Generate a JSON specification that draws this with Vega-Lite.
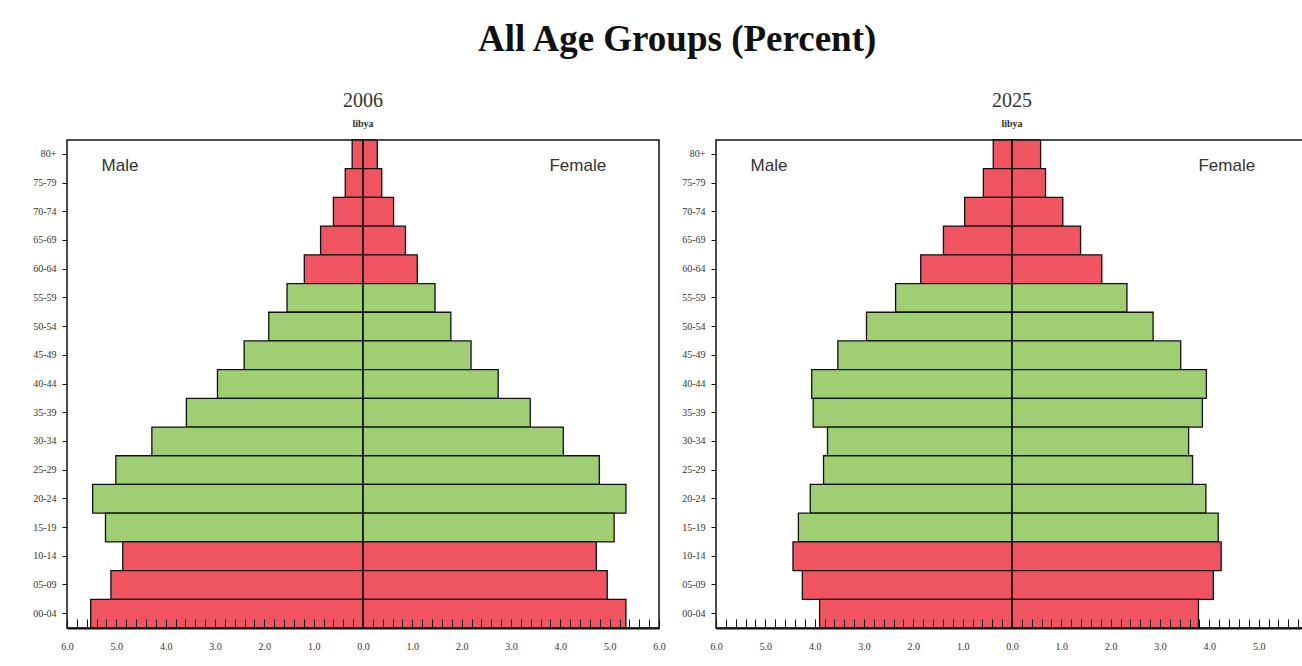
{
  "$schema": "https://vega.github.io/schema/vega-lite/v6.json",
  "background": "white",
  "padding": {"left": 5, "top": 20, "right": 5, "bottom": 5},
  "title": {"text": "All Age Groups (Percent)", "font": "Liberation Serif", "fontSize": 37, "fontWeight": "bold", "color": "#111", "anchor": "middle", "dx": 17, "offset": 32},
  "datasets": {
    "d2006": [
      {"age": "80+", "sex": "Male", "pct": -0.22, "grp": "dep"}, {"age": "80+", "sex": "Female", "pct": 0.29, "grp": "dep"},
      {"age": "75-79", "sex": "Male", "pct": -0.36, "grp": "dep"}, {"age": "75-79", "sex": "Female", "pct": 0.38, "grp": "dep"},
      {"age": "70-74", "sex": "Male", "pct": -0.60, "grp": "dep"}, {"age": "70-74", "sex": "Female", "pct": 0.62, "grp": "dep"},
      {"age": "65-69", "sex": "Male", "pct": -0.86, "grp": "dep"}, {"age": "65-69", "sex": "Female", "pct": 0.86, "grp": "dep"},
      {"age": "60-64", "sex": "Male", "pct": -1.19, "grp": "dep"}, {"age": "60-64", "sex": "Female", "pct": 1.10, "grp": "dep"},
      {"age": "55-59", "sex": "Male", "pct": -1.54, "grp": "work"}, {"age": "55-59", "sex": "Female", "pct": 1.46, "grp": "work"},
      {"age": "50-54", "sex": "Male", "pct": -1.91, "grp": "work"}, {"age": "50-54", "sex": "Female", "pct": 1.78, "grp": "work"},
      {"age": "45-49", "sex": "Male", "pct": -2.41, "grp": "work"}, {"age": "45-49", "sex": "Female", "pct": 2.19, "grp": "work"},
      {"age": "40-44", "sex": "Male", "pct": -2.95, "grp": "work"}, {"age": "40-44", "sex": "Female", "pct": 2.74, "grp": "work"},
      {"age": "35-39", "sex": "Male", "pct": -3.58, "grp": "work"}, {"age": "35-39", "sex": "Female", "pct": 3.39, "grp": "work"},
      {"age": "30-34", "sex": "Male", "pct": -4.28, "grp": "work"}, {"age": "30-34", "sex": "Female", "pct": 4.06, "grp": "work"},
      {"age": "25-29", "sex": "Male", "pct": -5.01, "grp": "work"}, {"age": "25-29", "sex": "Female", "pct": 4.79, "grp": "work"},
      {"age": "20-24", "sex": "Male", "pct": -5.48, "grp": "work"}, {"age": "20-24", "sex": "Female", "pct": 5.33, "grp": "work"},
      {"age": "15-19", "sex": "Male", "pct": -5.22, "grp": "work"}, {"age": "15-19", "sex": "Female", "pct": 5.09, "grp": "work"},
      {"age": "10-14", "sex": "Male", "pct": -4.87, "grp": "dep"}, {"age": "10-14", "sex": "Female", "pct": 4.73, "grp": "dep"},
      {"age": "05-09", "sex": "Male", "pct": -5.11, "grp": "dep"}, {"age": "05-09", "sex": "Female", "pct": 4.95, "grp": "dep"},
      {"age": "00-04", "sex": "Male", "pct": -5.52, "grp": "dep"}, {"age": "00-04", "sex": "Female", "pct": 5.33, "grp": "dep"}
    ],
    "d2025": [
      {"age": "80+", "sex": "Male", "pct": -0.38, "grp": "dep"}, {"age": "80+", "sex": "Female", "pct": 0.58, "grp": "dep"},
      {"age": "75-79", "sex": "Male", "pct": -0.58, "grp": "dep"}, {"age": "75-79", "sex": "Female", "pct": 0.68, "grp": "dep"},
      {"age": "70-74", "sex": "Male", "pct": -0.96, "grp": "dep"}, {"age": "70-74", "sex": "Female", "pct": 1.03, "grp": "dep"},
      {"age": "65-69", "sex": "Male", "pct": -1.39, "grp": "dep"}, {"age": "65-69", "sex": "Female", "pct": 1.39, "grp": "dep"},
      {"age": "60-64", "sex": "Male", "pct": -1.85, "grp": "dep"}, {"age": "60-64", "sex": "Female", "pct": 1.82, "grp": "dep"},
      {"age": "55-59", "sex": "Male", "pct": -2.36, "grp": "work"}, {"age": "55-59", "sex": "Female", "pct": 2.33, "grp": "work"},
      {"age": "50-54", "sex": "Male", "pct": -2.95, "grp": "work"}, {"age": "50-54", "sex": "Female", "pct": 2.86, "grp": "work"},
      {"age": "45-49", "sex": "Male", "pct": -3.53, "grp": "work"}, {"age": "45-49", "sex": "Female", "pct": 3.42, "grp": "work"},
      {"age": "40-44", "sex": "Male", "pct": -4.06, "grp": "work"}, {"age": "40-44", "sex": "Female", "pct": 3.94, "grp": "work"},
      {"age": "35-39", "sex": "Male", "pct": -4.03, "grp": "work"}, {"age": "35-39", "sex": "Female", "pct": 3.86, "grp": "work"},
      {"age": "30-34", "sex": "Male", "pct": -3.74, "grp": "work"}, {"age": "30-34", "sex": "Female", "pct": 3.58, "grp": "work"},
      {"age": "25-29", "sex": "Male", "pct": -3.82, "grp": "work"}, {"age": "25-29", "sex": "Female", "pct": 3.66, "grp": "work"},
      {"age": "20-24", "sex": "Male", "pct": -4.09, "grp": "work"}, {"age": "20-24", "sex": "Female", "pct": 3.93, "grp": "work"},
      {"age": "15-19", "sex": "Male", "pct": -4.33, "grp": "work"}, {"age": "15-19", "sex": "Female", "pct": 4.18, "grp": "work"},
      {"age": "10-14", "sex": "Male", "pct": -4.44, "grp": "dep"}, {"age": "10-14", "sex": "Female", "pct": 4.24, "grp": "dep"},
      {"age": "05-09", "sex": "Male", "pct": -4.25, "grp": "dep"}, {"age": "05-09", "sex": "Female", "pct": 4.08, "grp": "dep"},
      {"age": "00-04", "sex": "Male", "pct": -3.90, "grp": "dep"}, {"age": "00-04", "sex": "Female", "pct": 3.78, "grp": "dep"}
    ]
  },
  "spacing": 9,
  "hconcat": [
    {
      "width": 592, "height": 488,
      "title": {"text": "2006", "subtitle": "libya"},
      "data": {"name": "d2006"},
      "layer": [
        {"mark": {"type": "bar", "stroke": "#111", "strokeWidth": 1.3}, "encoding": {
          "y": {"field": "age", "type": "ordinal", "sort": ["80+","75-79","70-74","65-69","60-64","55-59","50-54","45-49","40-44","35-39","30-34","25-29","20-24","15-19","10-14","05-09","00-04"], "scale": {"paddingInner": 0, "paddingOuter": 0}, "axis": {"title": null, "minExtent": 61, "maxExtent": 61}},
          "x": {"field": "pct", "type": "quantitative", "scale": {"domain": [-6, 6], "nice": false}, "axis": {"title": null, "zindex": 1, "tickCount": 100, "labelOverlap": false, "values": [-6,-5.8,-5.6,-5.4,-5.2,-5,-4.8,-4.6,-4.4,-4.2,-4,-3.8,-3.6,-3.4,-3.2,-3,-2.8,-2.6,-2.4,-2.2,-2,-1.8,-1.6,-1.4,-1.2,-1,-0.8,-0.6,-0.4,-0.2,0,0.2,0.4,0.6,0.8,1,1.2,1.4,1.6,1.8,2,2.2,2.4,2.6,2.8,3,3.2,3.4,3.6,3.8,4,4.2,4.4,4.6,4.8,5,5.2,5.4,5.6,5.8,6], "labelExpr": "datum.value == round(datum.value) ? format(abs(datum.value), '.1f') : ''"}},
          "color": {"field": "grp", "type": "nominal", "scale": {"domain": ["dep", "work"], "range": ["#f05460", "#a0cf73"]}, "legend": null}}},
        {"mark": {"type": "rule", "color": "#111", "strokeWidth": 1}, "data": {"values": [{}]}, "encoding": {"x": {"datum": 0}}},
        {"mark": {"type": "text", "align": "left", "baseline": "middle", "dy": -3, "font": "Liberation Sans", "fontSize": 17, "color": "#333"}, "data": {"values": [{}]}, "encoding": {"x": {"datum": -5.3}, "y": {"datum": "80+", "bandPosition": 1}, "text": {"value": "Male"}}},
        {"mark": {"type": "text", "align": "left", "baseline": "middle", "dy": -3, "font": "Liberation Sans", "fontSize": 17, "color": "#333"}, "data": {"values": [{}]}, "encoding": {"x": {"datum": 3.78}, "y": {"datum": "80+", "bandPosition": 1}, "text": {"value": "Female"}}}
      ]
    },
    {
      "width": 592, "height": 488,
      "title": {"text": "2025", "subtitle": "libya"},
      "data": {"name": "d2025"},
      "layer": [
        {"mark": {"type": "bar", "stroke": "#111", "strokeWidth": 1.3}, "encoding": {
          "y": {"field": "age", "type": "ordinal", "sort": ["80+","75-79","70-74","65-69","60-64","55-59","50-54","45-49","40-44","35-39","30-34","25-29","20-24","15-19","10-14","05-09","00-04"], "scale": {"paddingInner": 0, "paddingOuter": 0}, "axis": {"title": null, "minExtent": 40, "maxExtent": 40}},
          "x": {"field": "pct", "type": "quantitative", "scale": {"domain": [-6, 6], "nice": false}, "axis": {"title": null, "zindex": 1, "tickCount": 100, "labelOverlap": false, "values": [-6,-5.8,-5.6,-5.4,-5.2,-5,-4.8,-4.6,-4.4,-4.2,-4,-3.8,-3.6,-3.4,-3.2,-3,-2.8,-2.6,-2.4,-2.2,-2,-1.8,-1.6,-1.4,-1.2,-1,-0.8,-0.6,-0.4,-0.2,0,0.2,0.4,0.6,0.8,1,1.2,1.4,1.6,1.8,2,2.2,2.4,2.6,2.8,3,3.2,3.4,3.6,3.8,4,4.2,4.4,4.6,4.8,5,5.2,5.4,5.6,5.8,6], "labelExpr": "datum.value == round(datum.value) ? format(abs(datum.value), '.1f') : ''"}},
          "color": {"field": "grp", "type": "nominal", "scale": {"domain": ["dep", "work"], "range": ["#f05460", "#a0cf73"]}, "legend": null}}},
        {"mark": {"type": "rule", "color": "#111", "strokeWidth": 1}, "data": {"values": [{}]}, "encoding": {"x": {"datum": 0}}},
        {"mark": {"type": "text", "align": "left", "baseline": "middle", "dy": -3, "font": "Liberation Sans", "fontSize": 17, "color": "#333"}, "data": {"values": [{}]}, "encoding": {"x": {"datum": -5.3}, "y": {"datum": "80+", "bandPosition": 1}, "text": {"value": "Male"}}},
        {"mark": {"type": "text", "align": "left", "baseline": "middle", "dy": -3, "font": "Liberation Sans", "fontSize": 17, "color": "#333"}, "data": {"values": [{}]}, "encoding": {"x": {"datum": 3.78}, "y": {"datum": "80+", "bandPosition": 1}, "text": {"value": "Female"}}}
      ]
    }
  ],
  "config": {
    "view": {"stroke": "#111", "strokeWidth": 1.5},
    "title": {"font": "Liberation Serif", "fontSize": 20, "fontWeight": "normal", "color": "#333", "subtitleFont": "Liberation Serif", "subtitleFontSize": 10, "subtitleFontWeight": "bold", "subtitleColor": "#333", "subtitlePadding": 8, "offset": 10},
    "axis": {"grid": false, "labelFont": "Liberation Serif", "labelFontSize": 10, "labelColor": "#333", "tickColor": "#111", "domainColor": "#111"},
    "axisX": {"tickSize": -9, "labelPadding": 22, "labelOverlap": false, "labelFlush": false, "domainWidth": 2},
    "axisY": {"tickSize": 5, "labelPadding": 6, "domain": false}
  }
}
